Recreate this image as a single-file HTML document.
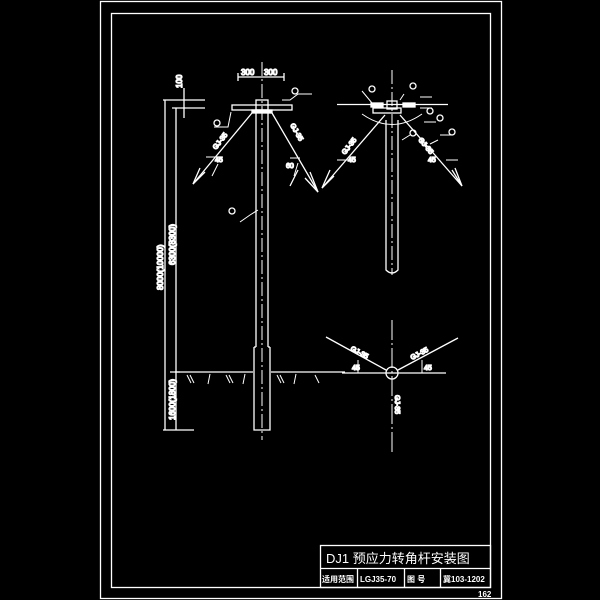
<!DOCTYPE html>
<html><head><meta charset="utf-8"><style>
html,body{margin:0;padding:0;background:#000;width:600px;height:600px;overflow:hidden}
svg{display:block}
text{fill:#fff;font-family:"Liberation Sans","Noto Sans CJK SC",sans-serif}
</style></head><body>
<svg width="600" height="600" viewBox="0 0 600 600" xmlns="http://www.w3.org/2000/svg">
<g stroke="#fff" fill="none" stroke-width="1.3">
<!-- frames -->
<rect x="100.5" y="1.5" width="401" height="597"/>
<rect x="111.5" y="13.5" width="379" height="574"/>
<!-- title block -->
<rect x="320.5" y="545.5" width="170" height="42"/>
<line x1="320" y1="568.5" x2="490" y2="568.5"/>
<line x1="357.5" y1="568" x2="357.5" y2="587"/>
<line x1="404.5" y1="568" x2="404.5" y2="587"/>
<line x1="440.5" y1="568" x2="440.5" y2="587"/>

<!-- LEFT POLE -->
<line x1="262" y1="62" x2="262" y2="440" stroke-dasharray="14,3,2,3" stroke-width="1"/>
<path d="M256 110 V347 M268 110 V347 M254 347 V430 H270 V347 M254 347 H256 M268 347 H270"/>
<rect x="232" y="105" width="60" height="5"/>
<rect x="256" y="100" width="12" height="10"/>
<rect x="252" y="110" width="20" height="3" fill="#fff"/>
<!-- top dims -->
<path d="M238 77 H284 M238 73 V81 M284 73 V81"/>
<text x="241" y="75" font-size="8">300</text><text x="264" y="75" font-size="8">300</text>
<!-- left dimension lines -->
<path d="M165 100 V430 M176 108 V430 M163 100 H205 M172 108 H205 M184 88 V118 M163 430 H194 M170 372 H180"/>
<text font-size="8" transform="translate(182,88) rotate(-90)">100</text>
<text font-size="8" transform="translate(163,290) rotate(-90)">8000(10000)</text>
<text font-size="8" transform="translate(175,265) rotate(-90)">6300(8300)</text>
<text font-size="8" transform="translate(175,420) rotate(-90)">1600(1800)</text>
<!-- ground -->
<path d="M175 372 H253 M271 372 H345"/>
<path d="M187 375 l4 8 M190 375 l4 8 M210 374 l-2 10 M226 375 l4 8 M229 375 l4 8 M245 374 l-2 10 M277 375 l4 8 M280 375 l4 8 M296 374 l-2 10 M315 375 l4 8" stroke-width="1"/>
<!-- guy wires left pole -->
<path d="M252 113 L193 184 M272 113 L318 192"/>
<path d="M200 168 L193 184 L205 172 M305 178 L318 192 L310 172 M298 170 L290 186"/>
<path d="M206 157 H220 M218 164 L212 176 M290 158 L300 158 M298 163 L294 176" stroke-width="1"/>
<path d="M214 127 H228 L231 112 M282 100 H290 L298 94 H312" stroke-width="1"/>
<circle cx="217" cy="123" r="3"/><circle cx="295" cy="91" r="3"/>
<path d="M240 222 L250 215 L258 210" stroke-width="1"/><circle cx="232" cy="211" r="3"/>
<text font-size="7" transform="translate(216,150) rotate(-52)">GJ-35</text>
<text font-size="7" transform="translate(290,125) rotate(60)">GJ-35</text>
<text x="215" y="162" font-size="7">45</text><text x="286" y="168" font-size="7">60</text>

<!-- RIGHT POLE -->
<line x1="392" y1="70" x2="392" y2="275" stroke-dasharray="14,3,2,3" stroke-width="1"/>
<path d="M386 120 V270 Q392 276 398 270 V120"/>
<rect x="387" y="101" width="10" height="8"/>
<line x1="337" y1="104.5" x2="448" y2="104.5"/>
<rect x="373" y="108" width="28" height="5"/>
<rect x="371" y="103" width="12" height="4" fill="#fff"/><rect x="403" y="103" width="12" height="4" fill="#fff"/>
<path d="M362 114 Q392 135 422 114" stroke-width="1"/>
<path d="M385 115 L322 188 M400 115 L462 186"/>
<path d="M330 170 L322 188 L334 176 M452 170 L462 186 L455 168"/>
<path d="M337 160 H350 M446 160 H458" stroke-width="1"/>
<path d="M362 91 L372 103 M404 94 L400 100 M420 97 H432 M420 108 H432 M424 122 H436 M410 135 L402 140 M440 135 H452 M430 144 L438 140" stroke-width="1"/>
<circle cx="372" cy="89" r="3"/><circle cx="413" cy="86" r="3"/><circle cx="430" cy="111" r="3"/>
<circle cx="440" cy="118" r="3"/><circle cx="413" cy="133" r="3"/><circle cx="452" cy="132" r="3"/>
<text font-size="7" transform="translate(345,155) rotate(-52)">GJ-35</text>
<text font-size="7" transform="translate(418,140) rotate(50)">GJ-35</text>
<text x="348" y="162" font-size="7">45</text><text x="428" y="162" font-size="7">45</text>

<!-- plan view -->
<line x1="392" y1="320" x2="392" y2="455" stroke-dasharray="20,3,2,3" stroke-width="1"/>
<line x1="342" y1="373" x2="446" y2="373"/>
<circle cx="392" cy="373" r="6"/>
<path d="M326 337 L386 370 M458 338 L398 370"/>
<path d="M358 360 V373 M422 360 V373" stroke-width="1"/>
<text font-size="7" transform="translate(350,350) rotate(28)">GJ-35</text>
<text font-size="7" transform="translate(412,360) rotate(-28)">GJ-35</text>
<text x="352" y="370" font-size="7">45</text><text x="424" y="370" font-size="7">45</text>
<text font-size="7" transform="translate(395,395) rotate(90)">GJ-35</text>
</g>
<!-- title text -->
<text x="326" y="563" font-size="13" font-family="Liberation Serif,Noto Serif CJK SC,serif">DJ1  预应力转角杆安装图</text>
<text x="322" y="582" font-size="8" font-weight="bold">适用范围</text>
<text x="360" y="582" font-size="8" font-weight="bold">LGJ35-70</text>
<text x="407" y="582" font-size="8" font-weight="bold">图  号</text>
<text x="443" y="582" font-size="8" font-weight="bold">冀103-1202</text>
<text x="478" y="597" font-size="8" font-weight="bold">162</text>
</svg>
</body></html>
